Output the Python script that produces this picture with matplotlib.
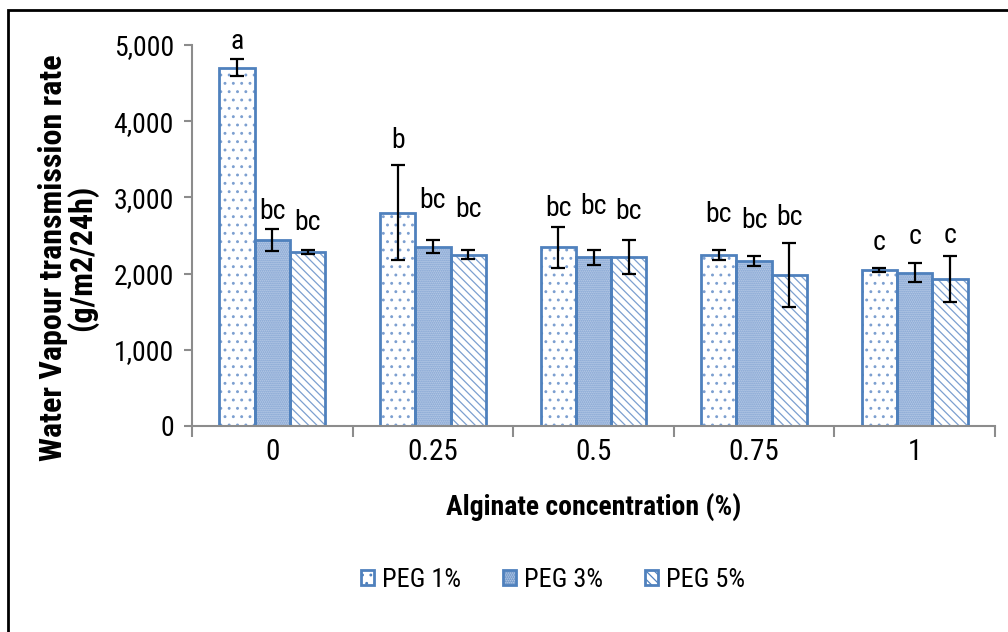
import matplotlib.pyplot as plt
import matplotlib.patches as mpatches
import numpy as np
from matplotlib.ticker import FuncFormatter, FixedLocator

plt.rcParams['font.family'] = ['Roboto Condensed', 'DejaVu Sans']
plt.rcParams['hatch.linewidth'] = 0.9

# data
categories = ['0', '0.25', '0.5', '0.75', '1']
series = ['PEG 1%', 'PEG 3%', 'PEG 5%']
peg1 = [4700, 2800, 2345, 2250, 2045]
peg3 = [2440, 2350, 2215, 2165, 2010]
peg5 = [2285, 2250, 2220, 1980, 1925]
err1 = [110, 620, 270, 65, 30]
err3 = [145, 85, 100, 60, 125]
err5 = [30, 60, 220, 420, 300]
letters1 = ['a', 'b', 'bc', 'bc', 'c']
letters3 = ['bc', 'bc', 'bc', 'bc', 'c']
letters5 = ['bc', 'bc', 'bc', 'bc', 'c']
letter_y1 = [5040, 3750, 2860, 2770, 2405]
letter_y3 = [2810, 2965, 2885, 2695, 2485]
letter_y5 = [2675, 2835, 2810, 2730, 2505]

blue = '#4F81BD'
hatch_blue = '#7C9FD0'
gray = '#8C8C8C'
fills = ['white', '#B7CAE6', 'white']
hatches = ['..', '........', '\\\\\\\\']


def main():
    fig = plt.figure(figsize=(10.08, 6.32), dpi=100)
    ax = fig.add_axes([192 / 1008, 1 - 426 / 632, (995 - 192) / 1008, (426 - 45) / 632])

    x = np.arange(len(categories))
    width = 0.22
    vals = [peg1, peg3, peg5]
    errs = [err1, err3, err5]
    letters = [letters1, letters3, letters5]
    letter_y = [letter_y1, letter_y3, letter_y5]

    for i in range(3):
        pos = x + (i - 1) * width
        # hatch layer in a lighter blue, then the outline on top
        ax.bar(pos, vals[i], width, color=fills[i], edgecolor=hatch_blue,
               linewidth=0, hatch=hatches[i], zorder=2)
        ax.bar(pos, vals[i], width, fill=False, edgecolor=blue,
               linewidth=2, label=series[i], zorder=2.5)
        ax.errorbar(pos, vals[i], yerr=errs[i], fmt='none', ecolor='black',
                    elinewidth=1.6, capsize=5, capthick=1.6, zorder=3)
        for p, t, ly in zip(pos, letters[i], letter_y[i]):
            ax.text(p, ly, t, ha='center', va='center', fontsize=20)

    ax.set_xlim(-0.5, len(categories) - 0.5)
    ax.set_ylim(0, 5000)
    ax.set_yticks(range(0, 5001, 1000))
    ax.yaxis.set_major_formatter(FuncFormatter(lambda v, p: f'{int(v):,}'))
    ax.set_xticks(x)
    ax.set_xticklabels(categories)
    ax.xaxis.set_minor_locator(FixedLocator(np.arange(-0.5, len(categories), 1.0)))
    ax.tick_params(axis='x', which='major', length=0, pad=9, labelsize=21)
    ax.tick_params(axis='x', which='minor', length=8, width=1.5, color=gray, direction='out')
    ax.tick_params(axis='y', length=6, width=1.5, color=gray, labelsize=20, pad=7)

    ax.spines['top'].set_visible(False)
    for s in ['left', 'bottom', 'right']:
        ax.spines[s].set_color(gray)
        ax.spines[s].set_linewidth(1.5)
    ax.spines['right'].set_bounds(0, 0)

    ax.set_ylabel('Water Vapour transmission rate\n(g/m2/24h)', fontsize=23,
                  fontweight='bold', linespacing=0.92)
    ax.yaxis.set_label_coords(-0.117, 0.441)
    ax.set_xlabel('Alginate concentration (%)', fontsize=20, fontweight='bold')
    ax.xaxis.set_label_coords(0.5, -0.175)

    handles = [mpatches.Patch(facecolor=f, edgecolor=blue, linewidth=2, hatch=h)
               for f, h in zip(fills, hatches)]
    fig.legend(handles, series, loc='center', bbox_to_anchor=(553 / 1008, 1 - 580 / 632),
               ncol=3, frameon=False, fontsize=19, handlelength=0.5, handleheight=0.5,
               handletextpad=0.3, columnspacing=1.6)

    # outer chart border (only top and left visible in the reference)
    fig.add_artist(mpatches.Rectangle((8 / 1008, -0.05), 1.1, 1 - 10 / 632 + 0.05,
                                      transform=fig.transFigure, fill=False,
                                      edgecolor='black', linewidth=2))

    fig.savefig('out.png', dpi=100)


if __name__ == "__main__":
    main()
